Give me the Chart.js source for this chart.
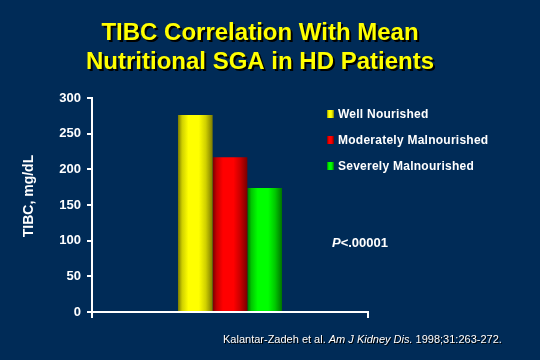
<!DOCTYPE html>
<html>
<head>
<meta charset="utf-8">
<script src="https://cdn.jsdelivr.net/npm/chart.js@4/dist/chart.umd.min.js"></script>
<style>
  html, body { margin: 0; padding: 0; background: #002b57; }
  #wrap { width: 540px; height: 360px; }
</style>
</head>
<body>
<div id="wrap"><canvas id="c" width="540" height="360"></canvas></div>
<script>
// ---- Data ----
const categories = ['Well Nourished', 'Moderately Malnourished', 'Severely Malnourished'];
const tibcValues = [276, 217, 174];
const yTickValues = [0, 50, 100, 150, 200, 250, 300];
const titleLines = ['TIBC Correlation With Mean', 'Nutritional SGA in HD Patients'];
const yAxisTitle = 'TIBC, mg/dL';
const pValueText = ['P', '<.00001'];
const citationParts = ['Kalantar-Zadeh et al. ', 'Am J Kidney Dis.', ' 1998;31:263-272.'];

// ---- Styles ----
const BG = '#002b57';
const FONT = "'Liberation Sans', Arial, sans-serif";
const palettes = [
  { dark: '#7a7a00', mid: '#d0d000', bright: '#ffff00' },
  { dark: '#780000', mid: '#c80000', bright: '#ff0000' },
  { dark: '#007400', mid: '#00c800', bright: '#00ff00' }
];
function makeGrad(ctx, x0, x1, p) {
  const g = ctx.createLinearGradient(x0, 0, x1, 0);
  g.addColorStop(0, p.dark);
  g.addColorStop(0.12, p.mid);
  g.addColorStop(0.3, p.bright);
  g.addColorStop(0.6, p.bright);
  g.addColorStop(0.8, p.mid);
  g.addColorStop(1, p.dark);
  return g;
}

const datasets = categories.map((name, i) => ({
  label: name,
  data: [tibcValues[i]],
  backgroundColor: palettes[i].bright,
  borderWidth: 0,
  barPercentage: 1,
  categoryPercentage: 0.377
}));

const decor = {
  id: 'decor',
  beforeDraw(chart) {
    const ctx = chart.ctx;
    ctx.save();
    ctx.fillStyle = BG;
    ctx.fillRect(0, 0, chart.width, chart.height);
    ctx.restore();
  },
  afterDatasetsUpdate(chart) {
    const ctx = chart.ctx;
    chart.data.datasets.forEach((ds, i) => {
      const meta = chart.getDatasetMeta(i);
      meta.data.forEach(el => {
        const x0 = el.x - el.width / 2, x1 = el.x + el.width / 2;
        el.options = Object.assign({}, el.options, { backgroundColor: makeGrad(ctx, x0, x1, palettes[i]) });
      });
    });
  },
  afterDraw(chart) {
    const ctx = chart.ctx;
    ctx.save();
    // Title
    ctx.font = 'bold 24px ' + FONT;
    ctx.textAlign = 'center';
    ctx.textBaseline = 'alphabetic';
    const tys = [40, 69];
    titleLines.forEach((t, i) => {
      ctx.fillStyle = '#000000';
      ctx.fillText(t, 262, tys[i] + 2);
      ctx.fillStyle = '#ffff00';
      ctx.fillText(t, 260, tys[i]);
    });
    // Y axis title
    ctx.save();
    ctx.translate(33, 196);
    ctx.rotate(-Math.PI / 2);
    ctx.font = 'bold 14px ' + FONT;
    ctx.fillStyle = '#ffffff';
    ctx.textAlign = 'center';
    ctx.textBaseline = 'alphabetic';
    ctx.fillText(yAxisTitle, 0, 0);
    ctx.restore();
    // Legend
    const rows = [114, 140, 166];
    ctx.textAlign = 'left';
    ctx.textBaseline = 'middle';
    ctx.font = 'bold 12px ' + FONT;
    if ('letterSpacing' in ctx) ctx.letterSpacing = '0.25px';
    chart.data.datasets.forEach((ds, i) => {
      const y = rows[i];
      ctx.fillStyle = makeGrad(ctx, 327, 334, palettes[i]);
      ctx.fillRect(327, y - 4, 7, 8);
      ctx.fillStyle = '#ffffff';
      ctx.fillText(ds.label, 338, y + 0.5);
    });
    if ('letterSpacing' in ctx) ctx.letterSpacing = '0px';
    // P value
    ctx.font = 'bold italic 13px ' + FONT;
    ctx.fillStyle = '#ffffff';
    ctx.textBaseline = 'alphabetic';
    let px = 332;
    ctx.fillText(pValueText[0], px, 247);
    px += ctx.measureText(pValueText[0]).width;
    ctx.font = 'bold 13px ' + FONT;
    ctx.fillText(pValueText[1], px, 247);
    // Citation
    const fonts = ['11px ' + FONT, 'italic 11px ' + FONT, '11px ' + FONT];
    let cx = 223;
    citationParts.forEach((t, i) => {
      ctx.font = fonts[i];
      ctx.fillStyle = '#000000';
      ctx.fillText(t, cx + 1, 344);
      ctx.fillStyle = '#ffffff';
      ctx.fillText(t, cx, 343);
      cx += ctx.measureText(t).width;
    });
    ctx.restore();
  }
};

new Chart(document.getElementById('c'), {
  type: 'bar',
  data: { labels: [''], datasets },
  plugins: [decor],
  options: {
    responsive: false,
    devicePixelRatio: 1,
    animation: false,
    layout: { padding: { left: 0, right: 172, top: 98, bottom: 0 } },
    plugins: { legend: { display: false }, tooltip: { enabled: false }, title: { display: false } },
    scales: {
      x: {
        type: 'category',
        offset: true,
        grid: { offset: true, drawOnChartArea: false, drawTicks: true, tickLength: 6, color: '#ffffff', lineWidth: 2 },
        border: { display: true, color: '#ffffff', width: 2 },
        ticks: { display: false },
        afterFit(s) { s.height = 48; }
      },
      y: {
        min: 0, max: 300,
        afterBuildTicks(s) { s.ticks = yTickValues.map(v => ({ value: v })); },
        ticks: { color: '#ffffff', font: { family: FONT, size: 13, weight: 'bold' }, padding: 6 },
        grid: { drawOnChartArea: false, drawTicks: true, tickLength: 5, color: '#ffffff', lineWidth: 2 },
        border: { display: true, color: '#ffffff', width: 2 },
        afterFit(s) { s.width = 92; }
      }
    }
  }
});
</script>
</body>
</html>
